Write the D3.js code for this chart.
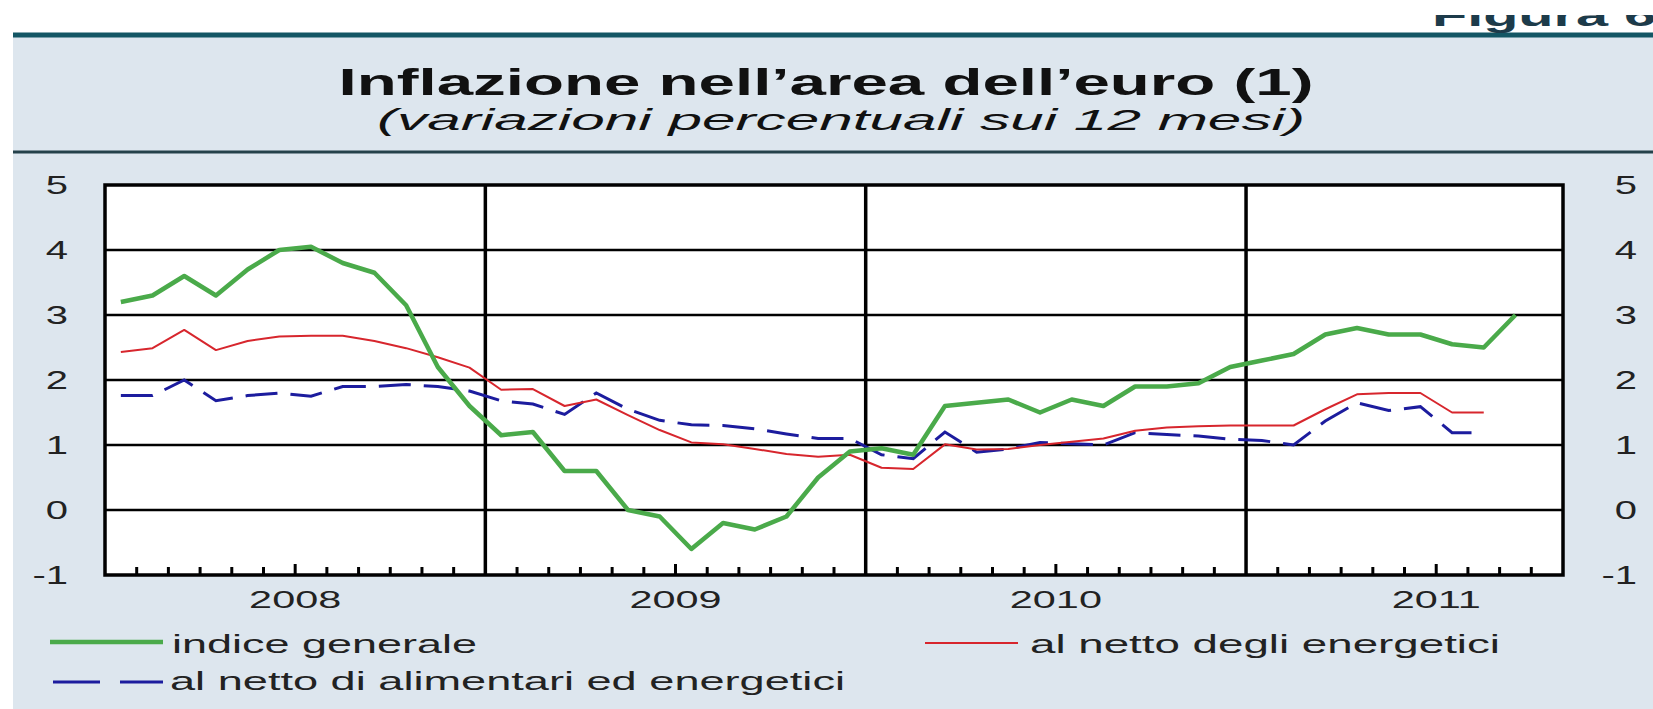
<!DOCTYPE html>
<html>
<head>
<meta charset="utf-8">
<script src="https://cdn.jsdelivr.net/npm/d3@7"></script>
<style>
  body { margin: 0; background: #fff; }
  svg { display: block; font-family: "Liberation Sans", Arial, sans-serif; }
</style>
</head>
<body>
<svg width="1653" height="709"></svg>
<script>
// monthly values, Jan 2008 onwards
var years = ["2008", "2009", "2010", "2011"];
var yTicks = [-1, 0, 1, 2, 3, 4, 5];

var indiceGenerale = [
  3.2, 3.3, 3.6, 3.3, 3.7, 4.0, 4.05, 3.8, 3.65, 3.15, 2.2, 1.6,
  1.15, 1.2, 0.6, 0.6, 0.0, -0.1, -0.6, -0.2, -0.3, -0.1, 0.5, 0.9,
  0.95, 0.85, 1.6, 1.65, 1.7, 1.5, 1.7, 1.6, 1.9, 1.9, 1.95, 2.2,
  2.3, 2.4, 2.7, 2.8, 2.7, 2.7, 2.55, 2.5, 3.0
];
var nettoEnergetici = [
  2.43, 2.49, 2.77, 2.46, 2.6, 2.67, 2.68, 2.68, 2.6, 2.49, 2.35, 2.19,
  1.85, 1.86, 1.6, 1.7, 1.46, 1.23, 1.04, 1.01, 0.94, 0.86, 0.82, 0.85,
  0.65, 0.63, 1.01, 0.93, 0.94, 1.0, 1.05, 1.1, 1.22, 1.27, 1.29, 1.3,
  1.3, 1.3, 1.55, 1.78, 1.8, 1.8, 1.5, 1.5
];
var nettoAlimEnergetici = [
  1.76, 1.76, 2.0, 1.68, 1.76, 1.8, 1.75, 1.9, 1.9, 1.93, 1.9, 1.83,
  1.68, 1.63, 1.47, 1.8, 1.55, 1.38, 1.31, 1.3, 1.25, 1.17, 1.1, 1.1,
  0.85, 0.79, 1.2, 0.89, 0.94, 1.04, 1.02, 1.0, 1.19, 1.16, 1.14, 1.09,
  1.07, 1.0, 1.37, 1.65, 1.53, 1.59, 1.19, 1.19
];
var nMonths = 46; // Jan 2008 - Oct 2011 on the axis

var svg = d3.select("svg"),
    W = +svg.attr("width"),
    H = +svg.attr("height");

// the source picture is stretched sideways, so are its texts
function stretch(sel, k) {
  sel.each(function() {
    var t = d3.select(this);
    t.attr("textLength", this.getComputedTextLength() * k)
     .attr("lengthAdjust", "spacingAndGlyphs");
  });
}

var x = d3.scaleLinear().domain([0, nMonths]).range([105, 1563]);
var y = d3.scaleLinear().domain([-1, 5]).range([575, 185]);

// background + header
svg.append("rect").attr("x", 13).attr("y", 35).attr("width", W - 13).attr("height", H - 35)
  .attr("fill", "#dde6ee");
svg.append("line").attr("x1", 13).attr("x2", W).attr("y1", 35).attr("y2", 35)
  .attr("stroke", "#135664").attr("stroke-width", 5);
svg.append("line").attr("x1", 13).attr("x2", W).attr("y1", 152).attr("y2", 152)
  .attr("stroke", "#24414a").attr("stroke-width", 3);

svg.append("clipPath").attr("id", "figclip")
  .append("rect").attr("x", 0).attr("y", 15).attr("width", W).attr("height", 18);
svg.append("text")
  .attr("clip-path", "url(#figclip)")
  .attr("x", 1432).attr("y", 26)
  .attr("font-size", 32).attr("font-weight", "bold").attr("fill", "#1d3b4a")
  .text("Figura 6")
  .call(stretch, 1.8);

svg.append("text")
  .attr("x", 826).attr("y", 95)
  .attr("text-anchor", "middle")
  .attr("font-size", 37).attr("font-weight", "bold").attr("fill", "#111")
  .attr("textLength", 975).attr("lengthAdjust", "spacingAndGlyphs")
  .text("Inflazione nell\u2019area dell\u2019euro (1)");
svg.append("text")
  .attr("x", 841).attr("y", 130)
  .attr("text-anchor", "middle")
  .attr("font-size", 30).attr("font-style", "italic").attr("fill", "#111")
  .attr("textLength", 928).attr("lengthAdjust", "spacingAndGlyphs")
  .text("(variazioni percentuali sui 12 mesi)");

// plot area
var g = svg.append("g");
g.append("rect")
  .attr("x", x(0)).attr("y", y(5))
  .attr("width", x(nMonths) - x(0)).attr("height", y(-1) - y(5))
  .attr("fill", "#fff");

g.selectAll(".grid")
  .data(yTicks.slice(1, -1))
  .enter().append("line")
  .attr("x1", x(0)).attr("x2", x(nMonths))
  .attr("y1", d => y(d)).attr("y2", d => y(d))
  .attr("stroke", "#000").attr("stroke-width", 2.5);

// year separators
g.selectAll(".yearline")
  .data(years.slice(1))
  .enter().append("line")
  .attr("x1", (d, i) => x((i + 1) * 12)).attr("x2", (d, i) => x((i + 1) * 12))
  .attr("y1", y(5)).attr("y2", y(-1))
  .attr("stroke", "#000").attr("stroke-width", 3.5);

// monthly ticks, longer at mid year
var tickMonths = d3.range(1, nMonths).filter(m => m % 12 != 0);
g.selectAll(".tick")
  .data(tickMonths)
  .enter().append("line")
  .attr("x1", d => x(d)).attr("x2", d => x(d))
  .attr("y1", y(-1)).attr("y2", d => y(-1) - (d % 12 == 6 ? 11 : 8))
  .attr("stroke", "#000").attr("stroke-width", 3);

var line = d3.line()
  .x((d, i) => x(i + 0.5))
  .y(d => y(d));

g.append("path").datum(nettoAlimEnergetici)
  .attr("d", line).attr("fill", "none")
  .attr("stroke", "#1c1c9e").attr("stroke-width", 3)
  .attr("stroke-dasharray", "32,13");
g.append("path").datum(nettoEnergetici)
  .attr("d", line).attr("fill", "none")
  .attr("stroke", "#d7262d").attr("stroke-width", 2)
  .attr("stroke-linejoin", "round");
g.append("path").datum(indiceGenerale)
  .attr("d", line).attr("fill", "none")
  .attr("stroke", "#4aaa4a").attr("stroke-width", 4.5)
  .attr("stroke-linejoin", "round");

g.append("rect")
  .attr("x", x(0)).attr("y", y(5))
  .attr("width", x(nMonths) - x(0)).attr("height", y(-1) - y(5))
  .attr("fill", "none").attr("stroke", "#000").attr("stroke-width", 3.5);

// y labels both sides
[68, 1637].forEach(function(xp) {
  svg.append("g").selectAll("text")
    .data(yTicks)
    .enter().append("text")
    .attr("x", xp).attr("y", d => y(d) + 9)
    .attr("text-anchor", "end")
    .attr("font-size", 25).attr("fill", "#222")
    .text(d => d)
    .call(stretch, 1.6);
});

svg.append("g").selectAll("text")
  .data(years)
  .enter().append("text")
  .attr("x", (d, i) => x(i * 12 + 6)).attr("y", 608)
  .attr("text-anchor", "middle")
  .attr("font-size", 23).attr("fill", "#222")
  .text(d => d)
  .call(stretch, 1.8);

// legend
var legend = svg.append("g").attr("font-size", 26).attr("fill", "#222");
legend.append("line").attr("x1", 50).attr("x2", 163).attr("y1", 642).attr("y2", 642)
  .attr("stroke", "#4aaa4a").attr("stroke-width", 4.5);
legend.append("text").attr("x", 172).attr("y", 653)
  .attr("textLength", 305).attr("lengthAdjust", "spacingAndGlyphs")
  .text("indice generale");
legend.append("line").attr("x1", 925).attr("x2", 1018).attr("y1", 643).attr("y2", 643)
  .attr("stroke", "#d7262d").attr("stroke-width", 2);
legend.append("text").attr("x", 1030).attr("y", 653)
  .attr("textLength", 470).attr("lengthAdjust", "spacingAndGlyphs")
  .text("al netto degli energetici");
legend.append("line").attr("x1", 53).attr("x2", 163).attr("y1", 682).attr("y2", 682)
  .attr("stroke", "#1c1c9e").attr("stroke-width", 3)
  .attr("stroke-dasharray", "47,20");
legend.append("text").attr("x", 170).attr("y", 690)
  .attr("textLength", 675).attr("lengthAdjust", "spacingAndGlyphs")
  .text("al netto di alimentari ed energetici");
</script>
</body>
</html>
